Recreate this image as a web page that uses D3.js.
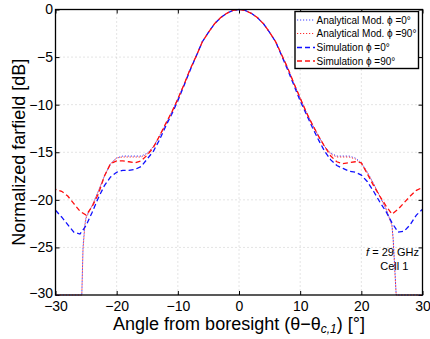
<!DOCTYPE html>
<html lang="en">
<head>
<meta charset="UTF-8">
<title>Normalized farfield</title>
<script src="https://d3js.org/d3.v7.min.js"></script>
<style>
  body { margin: 0; background: #fff; }
  svg text { font-family: "Liberation Sans", Arial, Helvetica, sans-serif; }
</style>
</head>
<body>
<div id="chart"></div>
<script>
// angles (deg) for the simulated cuts
const simAngles = d3.range(-30, 31, 1);

// Simulation phi = 0 deg (blue dashed)
const simPhi0 = [-21.1, -21.8, -22.6, -23.4, -23.6, -22.7, -21.3, -19.8, -18.5, -17.6,
  -17.1, -16.9, -16.9, -16.8, -16.5, -15.7, -14.9, -13.7, -12.3, -11.0,
  -9.6, -8.0, -6.4, -4.9, -3.4, -2.4, -1.5, -0.85, -0.4, -0.1,
  0,
  -0.1, -0.4, -0.85, -1.5, -2.4, -3.4, -4.9, -6.4, -8.0, -9.6,
  -11.0, -12.4, -13.7, -14.9, -15.8, -16.4, -16.7, -17.0, -17.1, -17.4,
  -18.1, -19.1, -20.2, -21.2, -22.4, -23.4, -23.3, -22.6, -21.6, -21.0];

// Simulation phi = 90 deg (red dashed)
const simPhi90 = [-18.9, -19.1, -19.6, -20.4, -21.2, -21.6, -20.7, -19.4, -17.5, -16.2,
  -15.9, -15.9, -16.0, -16.1, -15.9, -15.3, -14.5, -13.3, -12.0, -10.8,
  -9.4, -7.9, -6.3, -4.9, -3.4, -2.4, -1.5, -0.85, -0.4, -0.1,
  0,
  -0.1, -0.4, -0.85, -1.5, -2.4, -3.4, -4.8, -6.2, -7.8, -9.3,
  -10.8, -12.1, -13.3, -14.4, -15.4, -16.0, -16.2, -16.1, -16.0, -16.1,
  -17.3, -18.5, -19.6, -20.6, -21.5, -21.0, -20.3, -19.6, -19.0, -18.7];

// angles for the analytical model (finer near the nulls)
const anaAngles = [-30, -29, -28, -27, -26, -25.7, -25.5, -25.2,
  -25, -24, -23, -22, -21, -20, -19, -18, -17, -16, -15, -14, -13, -12, -11,
  -10, -9, -8, -7, -6, -5, -4, -3, -2, -1, 0, 1, 2, 3, 4, 5, 6, 7, 8, 9, 10,
  11, 12, 13, 14, 15, 16, 17, 18, 19, 20, 21, 22, 23, 24, 25,
  25.2, 25.5, 25.7, 26, 27, 28, 29, 30];

const anaPhi0 = [-30, -30, -30, -30, -30, -30, -25.0, -22.6,
  -21.8, -20.6, -19.1, -17.5, -16.2, -15.6, -15.4, -15.4, -15.4, -15.4, -15.1, -14.4, -13.3, -12.1, -10.8,
  -9.4, -7.9, -6.3, -4.9, -3.4, -2.4, -1.5, -0.85, -0.4, -0.1, 0, -0.1, -0.4, -0.85, -1.5, -2.4, -3.4, -4.8, -6.2, -7.8, -9.3,
  -10.8, -12.1, -13.3, -14.4, -15.1, -15.4, -15.4, -15.4, -15.6, -16.1, -17.1, -18.3, -19.6, -20.9, -22.6,
  -24.0, -27.5, -30, -30, -30, -30, -30, -30];

const anaPhi90 = [-30, -30, -30, -30, -30, -30, -25.2, -22.7,
  -21.9, -20.6, -19.1, -17.5, -16.2, -15.6, -15.5, -15.5, -15.5, -15.5, -15.2, -14.4, -13.3, -12.1, -10.8,
  -9.4, -7.9, -6.3, -4.9, -3.4, -2.4, -1.5, -0.85, -0.4, -0.1, 0, -0.1, -0.4, -0.85, -1.5, -2.4, -3.4, -4.8, -6.2, -7.8, -9.3,
  -10.8, -12.1, -13.3, -14.4, -15.2, -15.5, -15.5, -15.5, -15.7, -16.2, -17.2, -18.3, -19.6, -20.9, -22.7,
  -24.2, -27.8, -30, -30, -30, -30, -30, -30];

const xTicks = [-30, -20, -10, 0, 10, 20, 30];
const yTicks = [-30, -25, -20, -15, -10, -5, 0];

const legendLabels = ["Analytical Mod. \u03d5 =0\u00b0", "Analytical Mod. \u03d5 =90\u00b0",
  "Simulation \u03d5 =0\u00b0", "Simulation \u03d5 =90\u00b0"];

const W = 430, H = 339;
const margin = { top: 9.5, right: 7.5, bottom: 44, left: 55.5 };
const width = W - margin.left - margin.right,
      height = H - margin.top - margin.bottom;

const svg = d3.select("#chart").append("svg")
    .attr("width", W)
    .attr("height", H);

const g = svg.append("g")
    .attr("transform", `translate(${margin.left},${margin.top})`);

const x = d3.scaleLinear().domain([-30, 30]).range([0, width]);
const y = d3.scaleLinear().domain([-30, 0]).range([height, 0]);

// grid
g.append("g").selectAll("line").data(xTicks.slice(1, -1)).join("line")
    .attr("x1", d => x(d)).attr("x2", d => x(d))
    .attr("y1", 0).attr("y2", height)
    .attr("stroke", "#c8c8c8").attr("stroke-width", 1)
    .attr("stroke-dasharray", "1,3");
g.append("g").selectAll("line").data(yTicks.slice(1, -1)).join("line")
    .attr("x1", 0).attr("x2", width)
    .attr("y1", d => y(d)).attr("y2", d => y(d))
    .attr("stroke", "#c8c8c8").attr("stroke-width", 1)
    .attr("stroke-dasharray", "1,3");

// axes, ticks pointing inward
const xAxis = g.append("g")
    .attr("transform", `translate(0,${height})`)
    .call(d3.axisBottom(x).tickValues(xTicks).tickSize(-4).tickPadding(6.5));
const yAxis = g.append("g")
    .call(d3.axisLeft(y).tickValues(yTicks).tickSize(-4).tickPadding(2.5));
g.append("g")
    .call(d3.axisTop(x).tickValues(xTicks).tickSize(-4).tickFormat(""));
g.append("g")
    .attr("transform", `translate(${width},0)`)
    .call(d3.axisRight(y).tickValues(yTicks).tickSize(-4).tickFormat(""));

g.selectAll(".domain").remove();
g.selectAll(".tick line").attr("stroke", "#000");
xAxis.selectAll("text").style("font-size", "14px").attr("fill", "#000");
yAxis.selectAll("text").style("font-size", "14px").attr("fill", "#000");
// keep the lowest y label clear of the x labels
yAxis.selectAll(".tick").filter(d => d === -30).select("text").attr("dy", "0.2em");

// clip
svg.append("defs").append("clipPath").attr("id", "clip")
  .append("rect").attr("x", -1).attr("y", -1).attr("width", width + 2).attr("height", height + 2);

const line = d3.line().x(d => x(d[0])).y(d => y(d[1]));
const plot = g.append("g").attr("clip-path", "url(#clip)");

const series = [
  { a: anaAngles, v: anaPhi0, color: "#4040ff", dash: "1.2,1.8", offset: 0, w: 1 },
  { a: anaAngles, v: anaPhi90, color: "#ff3030", dash: "1.2,1.8", offset: 1.5, w: 1 },
  { a: simAngles, v: simPhi0, color: "#1010ff", dash: "5,3", offset: 0, w: 1.3 },
  { a: simAngles, v: simPhi90, color: "#ff1010", dash: "5,3", offset: 4, w: 1.3 }
];

series.forEach(s => {
  plot.append("path")
      .datum(s.a.map((d, i) => [d, s.v[i]]))
      .attr("fill", "none")
      .attr("stroke", s.color)
      .attr("stroke-width", s.w)
      .attr("stroke-dasharray", s.dash)
      .attr("stroke-dashoffset", s.offset)
      .attr("d", line);
});

// box
g.append("rect")
    .attr("width", width).attr("height", height)
    .attr("fill", "none").attr("stroke", "#000").attr("stroke-width", 1.3);

// annotation
const ann = g.append("text")
    .attr("x", x(25.1)).attr("y", y(-25.9))
    .attr("text-anchor", "middle")
    .style("font-size", "11px");
ann.append("tspan").style("font-style", "italic").text("f");
ann.append("tspan").text(" = 29 GHz");
g.append("text")
    .attr("x", x(25.4)).attr("y", y(-27.4))
    .attr("text-anchor", "middle")
    .style("font-size", "11px")
    .text("Cell 1");

// legend
const lg = svg.append("g").attr("transform", "translate(295,11.5)");
lg.append("rect")
    .attr("width", 123.5).attr("height", 57)
    .attr("fill", "#fff").attr("stroke", "#000").attr("stroke-width", 1.4);
const legendRows = [8.5, 22, 36, 49.5];
series.forEach((s, i) => {
  lg.append("line")
      .attr("x1", 2).attr("x2", 20)
      .attr("y1", legendRows[i]).attr("y2", legendRows[i])
      .attr("stroke", s.color).attr("stroke-width", s.w)
      .attr("stroke-dasharray", s.dash);
  lg.append("text")
      .attr("x", 21.5).attr("y", legendRows[i])
      .attr("dy", "0.35em")
      .style("font-size", "10px")
      .text(legendLabels[i]);
});

// axis labels
svg.append("text")
    .attr("transform", `translate(24.5,${margin.top + height / 2}) rotate(-90)`)
    .attr("text-anchor", "middle")
    .style("font-size", "18px")
    .text("Normalized farfield [dB]");

const xl = svg.append("text")
    .attr("x", margin.left + width / 2)
    .attr("y", 330)
    .attr("text-anchor", "middle")
    .style("font-size", "18px");
xl.append("tspan").text("Angle from boresight (\u03b8\u2212\u03b8");
xl.append("tspan").attr("dy", 3).style("font-size", "12px").style("font-style", "italic").text("c,1");
xl.append("tspan").attr("dy", -3).text(") [\u00b0]");
</script>
</body>
</html>
